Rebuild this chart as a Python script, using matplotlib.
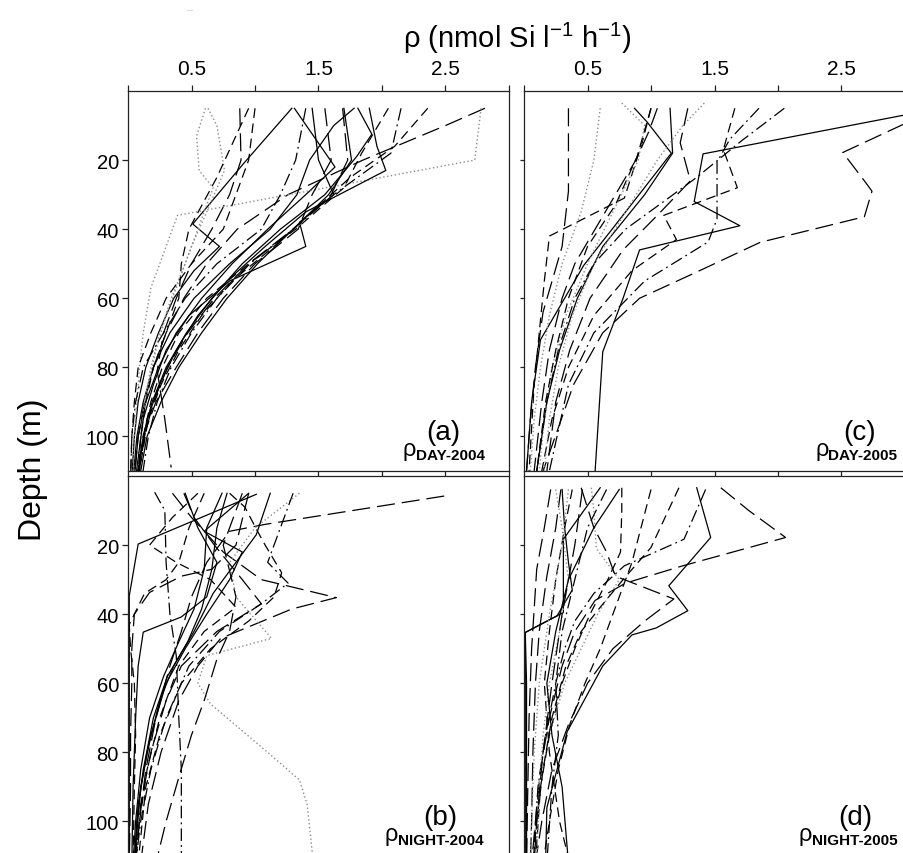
import matplotlib
matplotlib.use("Agg")
import matplotlib.pyplot as plt
from matplotlib.ticker import FixedLocator, FixedFormatter

plt.rcParams['font.family'] = ['Liberation Sans', 'DejaVu Sans']
plt.rcParams['mathtext.fontset'] = 'custom'
plt.rcParams['mathtext.rm'] = 'Liberation Sans'
plt.rcParams['mathtext.it'] = 'Liberation Sans:italic'
plt.rcParams['mathtext.bf'] = 'Liberation Sans:bold'
plt.rcParams['lines.scale_dashes'] = False

# ---------------- data ----------------
x_ticks = [0, 0.5, 1.0, 1.5, 2.0, 2.5, 3.0]
x_tick_labels = ['', '0.5', '', '1.5', '', '2.5', '']
y_ticks = [20, 40, 60, 80, 100]
y_tick_labels = ['20', '40', '60', '80', '100']

panel_letters = ['(a)', '(b)', '(c)', '(d)']
panel_subs = ['DAY-2004', 'NIGHT-2004', 'DAY-2005', 'NIGHT-2005']

STD = [5, 10, 20, 30, 40, 50, 60, 70, 80, 90, 100, 112]

# panel (a) DAY-2004
a_depth = [
    [5, 21, 38.5, 45, 52, 60, 70, 80, 90, 100, 112],
    [5, 22, 30, 40, 50, 60, 70, 80, 90, 100, 112],
    STD,
    [5, 12.5, 19, 30, 40, 50, 60, 70, 80, 90, 100, 112],
    STD,
    [5, 20, 30, 40, 50, 60, 70, 81, 95, 109],
    STD,
    [5, 20, 36, 57, 70, 80, 90, 100, 112],
    [5, 13, 23, 28, 40, 50, 60, 70, 80, 90, 100, 112],
    [5, 10, 23, 35, 45, 55, 65, 75, 85, 95, 112],
    [5, 20, 30, 40, 50, 60, 70, 80, 90, 100, 112],
    [5, 20, 30, 40, 50, 60, 70, 80, 90, 100, 112],
    [5, 18, 28, 40, 50, 60, 70, 80, 90, 100, 112],
    [5, 18, 30, 40, 50, 60, 70, 80, 90, 100, 112],
    [5, 16, 25, 35, 45, 55, 65, 75, 85, 95, 112],
    [5, 16, 23, 35, 45, 55, 65, 75, 85, 95, 112],
    [5, 20, 30, 40, 50, 60, 70, 80, 90, 100, 112],
    [5, 20, 30, 40, 50, 60, 70, 80, 90, 100, 112],
    [5, 20, 30, 38, 45, 55, 65, 75, 85, 95, 112],
    [5, 25, 40, 50, 60, 70, 80, 90, 100, 112],
]
a_rho = [
    [1.29, 0.91, 0.51, 0.72, 0.52, 0.36, 0.24, 0.14, 0.08, 0.05, 0.03],
    [1.31, 1.63, 1.40, 1.10, 0.82, 0.58, 0.38, 0.24, 0.14, 0.08, 0.05],
    [1.78, 1.62, 1.43, 1.33, 1.12, 0.80, 0.52, 0.33, 0.20, 0.12, 0.07, 0.04],
    [1.81, 1.92, 1.80, 1.55, 1.20, 0.90, 0.66, 0.46, 0.30, 0.19, 0.12, 0.07],
    [1.70, 1.72, 1.76, 1.58, 1.30, 1.02, 0.78, 0.58, 0.40, 0.26, 0.15, 0.09],
    [0.88, 0.89, 0.80, 0.66, 0.50, 0.38, 0.28, 0.23, 0.29, 0.34],
    [2.81, 2.50, 1.85, 1.26, 0.86, 0.62, 0.44, 0.30, 0.20, 0.13, 0.08, 0.05],
    [2.78, 2.73, 0.39, 0.18, 0.12, 0.09, 0.07, 0.05, 0.04],
    [0.61, 0.54, 0.56, 0.67, 0.55, 0.45, 0.34, 0.25, 0.18, 0.13, 0.10, 0.07],
    [0.63, 0.70, 0.76, 0.62, 0.50, 0.40, 0.30, 0.22, 0.16, 0.12, 0.08],
    [1.55, 1.60, 1.45, 1.34, 1.00, 0.75, 0.55, 0.38, 0.22, 0.12, 0.07],
    [1.69, 1.73, 1.60, 1.30, 0.95, 0.68, 0.47, 0.31, 0.20, 0.13, 0.08],
    [2.05, 1.84, 1.70, 1.32, 0.95, 0.62, 0.40, 0.27, 0.18, 0.12, 0.08],
    [2.15, 2.07, 1.62, 1.30, 0.96, 0.70, 0.50, 0.34, 0.23, 0.16, 0.11],
    [2.36, 2.10, 1.75, 1.45, 1.15, 0.82, 0.58, 0.40, 0.26, 0.16, 0.08],
    [1.90, 1.96, 2.03, 1.40, 1.08, 0.78, 0.55, 0.38, 0.25, 0.15, 0.07],
    [1.40, 1.32, 1.20, 1.05, 0.70, 0.45, 0.28, 0.12, 0.06, 0.03, 0.02],
    [1.00, 0.95, 0.85, 0.75, 0.50, 0.30, 0.18, 0.08, 0.05, 0.03, 0.02],
    [1.45, 1.50, 1.62, 1.35, 1.40, 0.80, 0.48, 0.30, 0.20, 0.12, 0.06],
    [0.95, 0.70, 0.48, 0.42, 0.40, 0.30, 0.20, 0.14, 0.10, 0.08],
]
a_style = ['solid', 'solid', 'solid', 'solid', 'solid', 'long', 'long', 'dot',
           'dot', 'dot', 'long', 'long', 'dash', 'dashdot', 'dash', 'solid',
           'dashdot', 'dash', 'solid', 'dash']

# panel (c) DAY-2005
c_depth = [
    [5, 29, 45, 64, 80, 95, 110],
    [5, 7, 18.2, 32, 39, 46, 60, 75.5, 110],
    [3, 9.6, 17.8, 26, 29, 36.4, 43.8, 52.4, 60, 70, 85, 110],
    [5, 15, 31, 42, 55, 70, 85, 110],
    [5, 17, 28, 36, 43, 52, 65, 80, 95, 110],
    [5, 9, 18, 35, 50.5, 72, 90, 110],
    [5, 18, 30, 45, 60, 75, 90, 110],
    [3.5, 10, 20, 35, 50, 65, 80, 95, 110],
    [3.5, 10, 20, 35, 50, 65, 80, 95, 110],
    [5, 19, 33, 45, 60, 75, 90, 110],
    [5, 15, 26, 36, 46, 60, 75, 90, 110],
    [5, 14, 20.6, 37, 43.7, 55, 70, 85, 110],
    [5, 14.5, 25, 32, 40, 50, 60, 75, 90, 110],
    [5, 12, 20, 30, 40, 50, 60, 75, 90, 110],
    [5, 20, 35, 50, 65, 80, 95, 110],
]
c_rho = [
    [0.35, 0.35, 0.30, 0.15, 0.09, 0.05, 0.02],
    [3.10, 2.99, 1.41, 1.34, 1.70, 0.91, 0.78, 0.62, 0.56],
    [3.20, 2.99, 2.51, 2.68, 2.74, 2.68, 1.86, 1.36, 0.91, 0.62, 0.39, 0.15],
    [1.00, 0.93, 0.79, 0.20, 0.16, 0.12, 0.08, 0.04],
    [1.66, 1.57, 1.68, 1.10, 1.20, 0.85, 0.55, 0.35, 0.22, 0.14],
    [0.87, 0.97, 1.16, 0.80, 0.47, 0.13, 0.06, 0.02],
    [1.15, 1.17, 0.95, 0.62, 0.42, 0.28, 0.18, 0.10],
    [0.77, 0.95, 0.90, 0.70, 0.50, 0.33, 0.22, 0.16, 0.12],
    [1.42, 1.25, 1.05, 0.80, 0.55, 0.38, 0.27, 0.20, 0.16],
    [1.00, 0.89, 0.72, 0.50, 0.35, 0.25, 0.17, 0.10],
    [1.29, 1.23, 1.31, 1.05, 0.78, 0.52, 0.36, 0.25, 0.18],
    [1.85, 1.62, 1.52, 1.52, 1.45, 0.95, 0.55, 0.35, 0.20],
    [2.05, 1.71, 1.36, 1.10, 0.80, 0.55, 0.40, 0.27, 0.18, 0.10],
    [1.05, 0.98, 0.88, 0.72, 0.56, 0.40, 0.30, 0.20, 0.14, 0.08],
    [0.60, 0.55, 0.45, 0.30, 0.20, 0.13, 0.08, 0.05],
]
c_style = ['long', 'solid', 'long', 'dash', 'dash', 'solid', 'solid', 'dot',
           'dot', 'dash', 'long', 'dashdot', 'dashdot', 'long', 'dot']

# panel (b) NIGHT-2004
b_depth = [
    [5.8, 14, 16, 25, 35, 45, 55, 70, 85, 100, 112],
    [5.3, 19.7, 34.7, 50, 70, 90, 112],
    [5, 15, 25, 35, 40.8, 45.2, 55, 70, 90, 112],
    [5, 12, 22, 30, 35.2, 38.5, 47, 55, 65, 80, 95, 112],
    [5, 20, 27, 29, 33.7, 40, 50, 60, 75, 90, 112],
    [4.7, 10, 25, 40, 52, 70, 85, 112],
    [5, 15, 25, 35, 47, 52, 60, 66, 80, 88, 95, 112],
    [5, 15, 27, 38.5, 48, 58, 70, 85, 100, 112],
    [5, 15, 27, 38.5, 48, 58, 70, 85, 100, 112],
    [5, 16, 22, 30, 40, 50, 60, 75, 90, 112],
    [5, 17, 28, 34, 45, 55, 65, 80, 95, 112],
    [5, 12, 20, 30, 37, 45, 55, 65, 80, 95, 112],
    [5, 9, 16, 20, 28, 35, 42, 50, 60, 75, 90, 112],
    [5, 15, 25, 31, 37, 45, 55, 70, 85, 100, 112],
    [5, 12, 20, 25, 30, 38, 45, 55, 70, 85, 100, 112],
    [5, 15, 25, 30, 34, 43, 50, 60, 75, 90, 112],
    [5, 20, 35, 45, 53, 65, 75, 86, 100, 112],
]
b_rho = [
    [2.49, 1.08, 0.80, 0.62, 0.50, 0.42, 0.33, 0.22, 0.14, 0.09, 0.06],
    [1.01, 0.08, 0.01, 0.01, 0.01, 0.01, 0.01],
    [0.45, 0.55, 0.70, 0.62, 0.42, 0.12, 0.08, 0.06, 0.04, 0.03],
    [0.35, 0.50, 0.75, 1.05, 1.64, 1.29, 0.73, 0.55, 0.40, 0.26, 0.16, 0.10],
    [0.95, 0.85, 0.66, 0.42, 0.17, 0.05, 0.03, 0.03, 0.02, 0.02, 0.01],
    [0.21, 0.29, 0.30, 0.33, 0.38, 0.40, 0.42, 0.42],
    [1.35, 1.00, 0.80, 0.85, 1.13, 0.62, 0.55, 0.65, 1.10, 1.35, 1.41, 1.46],
    [0.78, 0.70, 0.66, 0.58, 0.47, 0.31, 0.20, 0.12, 0.07, 0.05],
    [0.74, 0.62, 0.60, 0.52, 0.40, 0.28, 0.17, 0.10, 0.06, 0.04],
    [0.95, 0.60, 0.90, 0.80, 0.62, 0.45, 0.30, 0.18, 0.10, 0.05],
    [1.12, 1.01, 0.79, 0.67, 0.52, 0.36, 0.25, 0.15, 0.08, 0.05],
    [0.44, 0.52, 0.68, 0.90, 1.05, 0.70, 0.42, 0.30, 0.18, 0.10, 0.06],
    [0.80, 0.92, 1.02, 1.08, 1.21, 1.15, 0.95, 0.65, 0.42, 0.25, 0.14, 0.08],
    [1.30, 1.20, 1.10, 1.26, 1.05, 0.72, 0.48, 0.30, 0.18, 0.10, 0.06],
    [0.55, 0.35, 0.17, 0.38, 0.65, 0.85, 0.60, 0.40, 0.25, 0.15, 0.09, 0.05],
    [0.60, 0.48, 0.40, 0.30, 0.13, 0.01, 0.02, 0.05, 0.06, 0.05, 0.04],
    [0.90, 0.75, 0.85, 0.80, 0.70, 0.60, 0.50, 0.41, 0.30, 0.22],
]
b_style = ['long', 'solid', 'solid', 'long', 'long', 'dashdot', 'dot', 'solid',
           'solid', 'solid', 'solid', 'long', 'dash', 'dashdot', 'dash',
           'dash', 'long']

# panel (d) NIGHT-2005
d_depth = [
    [3.4, 10, 17.8, 26, 31, 36, 45, 55, 70, 85, 100, 112],
    [3.4, 17.8, 31.8, 39, 44, 46, 55, 74, 96, 112],
    [3.4, 18.3, 39.5, 45.3, 60, 80, 100, 112],
    [3.4, 10, 21, 30, 40, 50, 60, 75, 90, 112],
    [3.4, 10, 22, 30, 40, 50, 60, 75, 90, 112],
    [3.9, 15, 27, 50, 70, 90, 112],
    [3.9, 15, 29, 45, 60, 80, 100, 112],
    [3.9, 15, 30, 45, 60, 80, 100, 112],
    [3.4, 20.7, 30, 38, 45, 55, 70, 85, 100, 112],
    [3.9, 18.3, 26, 34, 42, 50, 60, 75, 90, 112],
    [3.4, 15, 22, 29, 35.6, 42, 50, 60, 72, 85, 100, 112],
    [3.9, 15, 25, 33, 40.5, 45.3, 60, 80, 100, 112],
    [3.9, 15, 30, 45, 60, 75, 90, 112],
    [3.9, 15, 30, 45, 60, 75, 90, 112],
    [3.9, 20, 40, 60, 80, 100, 112],
    [3.9, 20, 40, 60, 80, 100, 112],
    [3.9, 15, 30, 45, 60, 75, 90, 112],
    [3.9, 25, 40, 50, 60, 72, 85, 100, 112],
]
d_rho = [
    [1.55, 1.77, 2.06, 1.25, 0.80, 0.56, 0.40, 0.30, 0.20, 0.13, 0.09, 0.06],
    [1.36, 1.47, 1.14, 1.29, 1.04, 0.85, 0.62, 0.34, 0.18, 0.17],
    [0.60, 0.31, 0.31, 0.01, 0.01, 0.01, 0.01, 0.01],
    [0.53, 0.55, 0.57, 0.75, 0.58, 0.45, 0.32, 0.20, 0.12, 0.08],
    [0.77, 0.77, 0.76, 0.66, 0.52, 0.40, 0.30, 0.20, 0.13, 0.09],
    [0.21, 0.16, 0.10, 0.06, 0.04, 0.03, 0.02],
    [0.29, 0.25, 0.18, 0.12, 0.09, 0.07, 0.06, 0.05],
    [0.38, 0.32, 0.25, 0.20, 0.16, 0.20, 0.28, 0.36],
    [1.22, 1.00, 0.78, 0.60, 0.45, 0.33, 0.22, 0.15, 0.10, 0.07],
    [1.43, 1.26, 0.79, 0.55, 0.40, 0.32, 0.25, 0.17, 0.11, 0.07],
    [0.45, 0.55, 0.65, 0.72, 1.18, 0.95, 0.70, 0.50, 0.35, 0.22, 0.14, 0.09],
    [0.30, 0.32, 0.35, 0.38, 0.26, 0.01, 0.02, 0.02, 0.02, 0.02],
    [0.25, 0.30, 0.35, 0.28, 0.20, 0.15, 0.12, 0.10],
    [0.65, 0.50, 0.40, 0.30, 0.25, 0.27, 0.22, 0.18],
    [0.46, 0.40, 0.30, 0.22, 0.15, 0.10, 0.08],
    [0.35, 0.30, 0.20, 0.12, 0.08, 0.06, 0.05],
    [0.75, 0.55, 0.35, 0.25, 0.18, 0.22, 0.30, 0.35],
    [1.00, 0.85, 0.70, 0.60, 0.48, 0.36, 0.27, 0.20, 0.15],
]
d_style = ['long', 'solid', 'solid', 'dot', 'dash', 'long', 'long', 'dash',
           'dash', 'dashdot', 'long', 'solid', 'dot', 'dashdot', 'long',
           'dot', 'solid', 'dash']

# ---------------- styles ----------------
STYLES = {
    'solid': dict(color='black', lw=0.9, linestyle='-'),
    'long': dict(color='black', lw=0.9, linestyle=(0, (13, 5))),
    'dash': dict(color='black', lw=0.9, linestyle=(0, (7, 4))),
    'dashdot': dict(color='black', lw=0.9, linestyle=(0, (9, 3, 1.3, 3))),
    'dot': dict(color='#8c8c8c', lw=1.0, linestyle=(0, (1, 1.8))),
}

# ---------------- figure ----------------
W, H = 904, 854
fig = plt.figure(figsize=(W / 100, H / 100), dpi=100)


def ax_rect(x0, y0, x1, y1):
    return [x0 / W, 1 - y1 / H, (x1 - x0) / W, (y1 - y0) / H]


axes = {
    'a': fig.add_axes(ax_rect(128, 92, 509, 472)),
    'c': fig.add_axes(ax_rect(524, 92, 905, 472)),
    'b': fig.add_axes(ax_rect(128, 477, 509, 857)),
    'd': fig.add_axes(ax_rect(524, 477, 905, 857)),
}

panels = [
    ('a', a_depth, a_rho, a_style, 0, 2.48, 2.81),
    ('b', b_depth, b_rho, b_style, 1, 2.46, 2.80),
    ('c', c_depth, c_rho, c_style, 2, 2.64, 2.94),
    ('d', d_depth, d_rho, d_style, 3, 2.61, 2.94),
]

for key, depths, rhos, styles, idx, lx, sx in panels:
    ax = axes[key]
    for dep, rho, st in zip(depths, rhos, styles):
        ax.plot(rho, dep, **STYLES[st])
    ax.set_xlim(0, 3.0)
    ax.set_ylim(110, 0)
    for sp in ax.spines.values():
        sp.set_linewidth(0.9)
        sp.set_color('#222222')
    ax.xaxis.set_major_locator(FixedLocator(x_ticks))
    ax.xaxis.set_major_formatter(FixedFormatter(x_tick_labels))
    ax.yaxis.set_major_locator(FixedLocator(y_ticks))
    ax.yaxis.set_major_formatter(FixedFormatter(y_tick_labels))
    top_row = key in ('a', 'c')
    left_col = key in ('a', 'b')
    ax.tick_params(axis='x', direction='out', length=4, width=0.9,
                   top=top_row, bottom=top_row, labeltop=top_row,
                   labelbottom=False, labelsize=15, pad=5, colors='#222222',
                   labelcolor='black')
    ax.tick_params(axis='y', direction='out', length=4.5 if left_col else 3,
                   width=0.9, left=True, right=False, labelleft=left_col,
                   labelsize=14.5, pad=2, colors='#222222', labelcolor='black')
    # panel label
    ax.text(lx, 98.8, panel_letters[idx], ha='center', va='center',
            fontsize=20)
    sub = ax.text(sx, 106.6, panel_subs[idx], ha='right', va='baseline',
                  fontsize=11, fontweight='bold')
    ax.annotate('ρ', xy=(0, 0.18), xycoords=sub, ha='right', va='bottom',
                fontsize=17)

fig.text(517 / W, 1 - 38 / H, r'ρ (nmol Si l$^{\mathregular{-1}}$ h$^{\mathregular{-1}}$)',
         ha='center', va='center', fontsize=21)
fig.text(33 / W, 1 - 470 / H, 'Depth (m)', rotation=90, ha='center',
         va='center', fontsize=23)
fig.text(190 / W, 1 - 10 / H, '–', ha='center', va='center', fontsize=8,
         color='#cccccc')

fig.savefig('out.png', dpi=100)
